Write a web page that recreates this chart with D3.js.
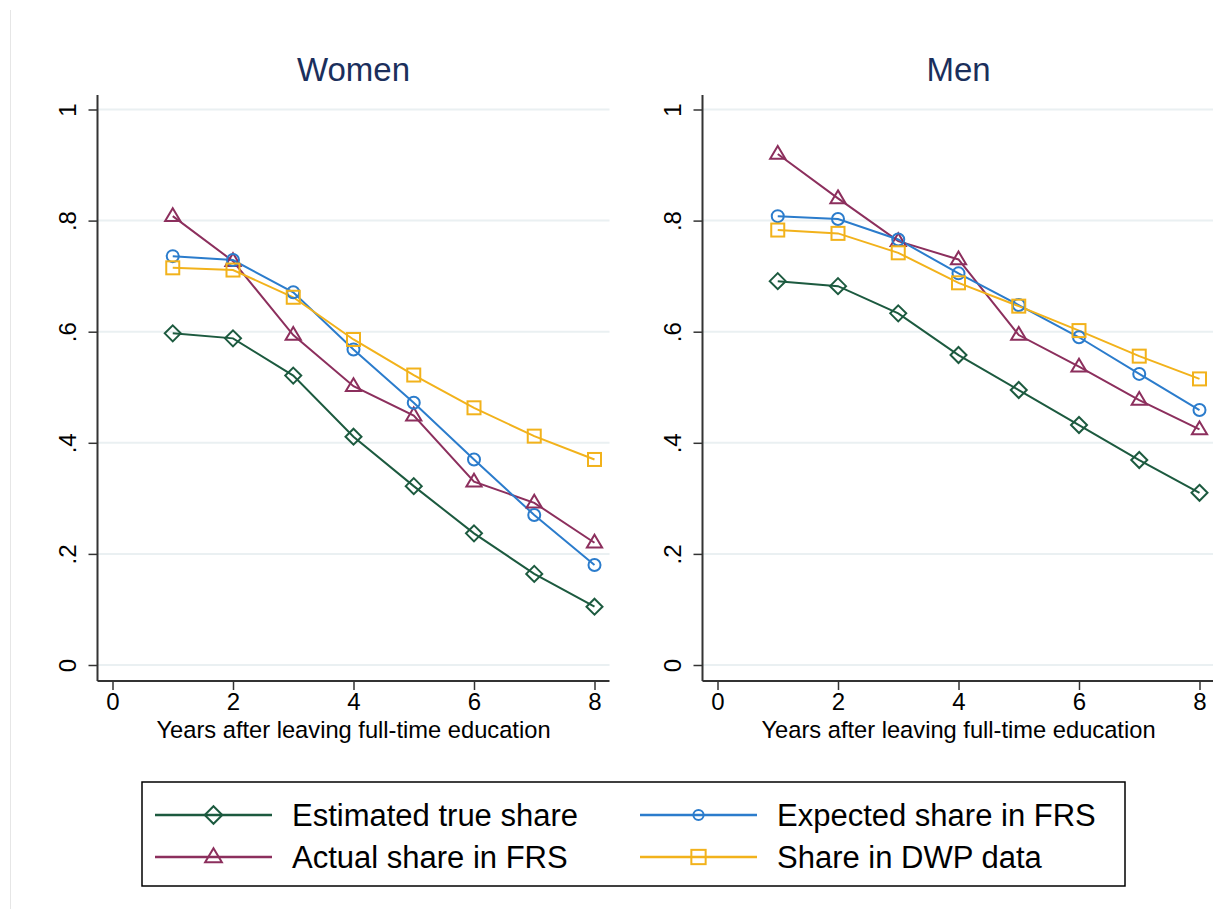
<!DOCTYPE html>
<html><head><meta charset="utf-8">
<script src="https://cdn.jsdelivr.net/npm/d3@7"></script>
<style>body{margin:0;background:#fff}svg{display:block;font-family:Arial,"Liberation Sans",sans-serif}</style>
</head><body><svg id="c" width="1213" height="909"></svg>
<script>
const years = [1,2,3,4,5,6,7,8];
const panels = ["Women","Men"];
const seriesNames = ["Estimated true share","Actual share in FRS","Expected share in FRS","Share in DWP data"];
const seriesColors = ["#1c5a3f","#8c2f5d","#2b7ccc","#f2b21b"];
const seriesShapes = ["diamond","triangle","circle","square"];
const womenTrue     = [0.597,0.588,0.521,0.411,0.322,0.237,0.164,0.105];
const womenActual   = [0.808,0.727,0.594,0.502,0.449,0.330,0.292,0.220];
const womenExpected = [0.736,0.729,0.671,0.568,0.472,0.370,0.270,0.180];
const womenDWP      = [0.715,0.711,0.662,0.586,0.522,0.463,0.412,0.370];
const menTrue       = [0.691,0.682,0.633,0.558,0.495,0.432,0.369,0.310];
const menActual     = [0.920,0.840,0.763,0.730,0.594,0.537,0.477,0.424];
const menExpected   = [0.808,0.803,0.766,0.705,0.648,0.590,0.524,0.459];
const menDWP        = [0.783,0.777,0.742,0.688,0.646,0.602,0.556,0.515];
const xTicks = [0,2,4,6,8];
const yTicks = [0,0.2,0.4,0.6,0.8,1];
const yTickLabels = ["0",".2",".4",".6",".8","1"];
const xTitle = "Years after leaving full-time education";

const panelData = {
  Women: [womenTrue, womenActual, womenExpected, womenDWP],
  Men:   [menTrue, menActual, menExpected, menDWP]
};

const svg = d3.select("#c");
svg.append("line").attr("x1",10.5).attr("x2",10.5).attr("y1",10).attr("y2",909)
  .attr("stroke","#e6e6e6").attr("stroke-width",1);

function marker(g, shape, color, cx, cy, s) {
  const common = el => el.attr("fill","none").attr("stroke",color).attr("stroke-width",2);
  if (shape === "circle") common(g.append("circle").attr("cx",cx).attr("cy",cy).attr("r",6*s));
  else if (shape === "square") common(g.append("rect").attr("x",cx-6.5*s).attr("y",cy-6.5*s).attr("width",13*s).attr("height",13*s));
  else if (shape === "diamond") { const r=8*s; common(g.append("path").attr("d",`M${cx},${cy-r}L${cx+r},${cy}L${cx},${cy+r}L${cx-r},${cy}Z`)); }
  else if (shape === "triangle") { const r=8*s; common(g.append("path").attr("d",`M${cx},${cy-r}L${cx+r*0.95},${cy+r*0.6}L${cx-r*0.95},${cy+r*0.6}Z`)); }
}

const panelLeft = {Women: 97.5, Men: 702.5};
panels.forEach(p => {
  const L = panelLeft[p], R = L + 512, T = 95, B = 681;
  const x = d3.scaleLinear().domain([0,8]).range([L+15, L+497]);
  const y = d3.scaleLinear().domain([0,1]).range([665,109.5]);
  const g = svg.append("g");
  yTicks.forEach(t => g.append("line").attr("x1",L).attr("x2",R).attr("y1",y(t)).attr("y2",y(t))
    .attr("stroke","#eaf0f2").attr("stroke-width",2));
  const ya = g.append("g").attr("transform",`translate(${L},0)`)
    .call(d3.axisLeft(y).tickValues(yTicks).tickSize(9).tickFormat((d,i)=>yTickLabels[i]));
  ya.select(".domain").remove();
  ya.selectAll(".tick line").attr("stroke","#333").attr("stroke-width",1.5);
  ya.selectAll(".tick text").attr("font-size",24).attr("fill","#000").attr("text-anchor","middle")
    .attr("x",0).attr("dy",0).attr("transform","translate(-30,0) rotate(-90) translate(0,8)");
  g.append("line").attr("x1",L).attr("x2",L).attr("y1",T).attr("y2",B).attr("stroke","#333").attr("stroke-width",2);
  const xa = g.append("g").attr("transform",`translate(0,${B})`)
    .call(d3.axisBottom(x).tickValues(xTicks).tickSize(9).tickFormat(d3.format("d")));
  xa.select(".domain").remove();
  xa.selectAll(".tick line").attr("stroke","#333").attr("stroke-width",1.5);
  xa.selectAll(".tick text").attr("font-size",24).attr("fill","#000").attr("y",12).attr("dy","0.71em");
  g.append("line").attr("x1",L).attr("x2",R).attr("y1",B).attr("y2",B).attr("stroke","#333").attr("stroke-width",2);
  g.append("text").attr("x",(L+R)/2).attr("y",738).attr("text-anchor","middle")
    .attr("font-size",23.7).attr("fill","#000").text(xTitle);
  g.append("text").attr("x",(L+R)/2).attr("y",81).attr("text-anchor","middle")
    .attr("font-size",33).attr("fill","#1b2f5c").text(p);
  const line = d3.line().x((d,i)=>x(years[i])).y(d=>y(d));
  panelData[p].forEach((vals, si) => {
    g.append("path").attr("d", line(vals)).attr("fill","none")
      .attr("stroke", seriesColors[si]).attr("stroke-width",2);
  });
  panelData[p].forEach((vals, si) => {
    vals.forEach((v,i) => marker(g, seriesShapes[si], seriesColors[si], x(years[i]), y(v), 1));
  });
});

const lg = svg.append("g");
lg.append("rect").attr("x",142).attr("y",782).attr("width",983).attr("height",104)
  .attr("fill","#fff").attr("stroke","#000").attr("stroke-width",1.5);
const legendPos = [[155,815],[155,857],[640,815],[640,857]];
seriesNames.forEach((name, si) => {
  const [lx, ly] = legendPos[si];
  lg.append("line").attr("x1",lx).attr("x2",lx+117).attr("y1",ly).attr("y2",ly)
    .attr("stroke",seriesColors[si]).attr("stroke-width",2.5);
  marker(lg, seriesShapes[si], seriesColors[si], lx+58.5, ly, si===2?0.85:1.1);
  lg.append("text").attr("x",lx+137).attr("y",ly+11).attr("font-size",31).attr("fill","#000").text(name);
});
</script></body></html>
